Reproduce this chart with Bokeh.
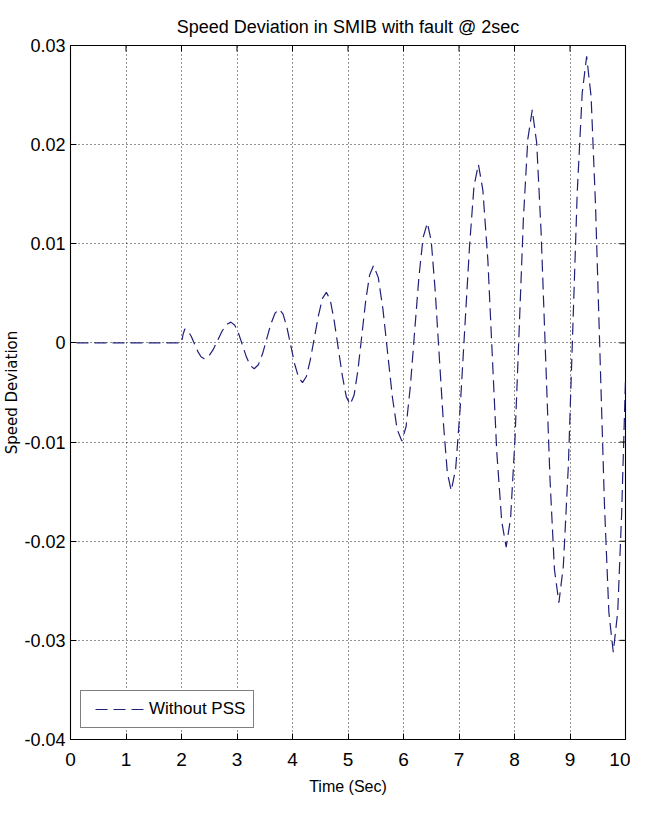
import math
from bokeh.plotting import figure
from bokeh.models import (Range1d, FixedTicker, Legend, LegendItem, ColumnDataSource)
from bokeh.embed import file_html
from bokeh.resources import INLINE

# ---- data ----
time_sec = [0, 2.0, 2.03, 2.06, 2.118, 2.177, 2.235, 2.293, 2.352, 2.41,
            2.49, 2.57, 2.65, 2.73, 2.81, 2.89,
            2.96, 3.03, 3.10, 3.17, 3.24, 3.31,
            3.385, 3.46, 3.535, 3.61, 3.685, 3.76,
            3.83, 3.90, 3.97, 4.04, 4.11, 4.18,
            4.25, 4.32, 4.395, 4.47, 4.54, 4.61,
            4.68, 4.75, 4.825, 4.90, 4.97, 5.04,
            5.11, 5.18, 5.25, 5.32, 5.39, 5.46,
            5.545, 5.63, 5.715, 5.80, 5.885, 5.97,
            6.047, 6.123, 6.20, 6.277, 6.353, 6.43,
            6.50, 6.57, 6.645, 6.72, 6.79, 6.86,
            6.94, 7.02, 7.105, 7.19, 7.27, 7.35,
            7.43, 7.52, 7.60, 7.68, 7.77, 7.85,
            7.93, 8.01, 8.085, 8.16, 8.24, 8.32,
            8.40, 8.48, 8.56, 8.64, 8.72, 8.80,
            8.88, 8.97, 9.05, 9.13, 9.22, 9.30,
            9.38, 9.46, 9.54, 9.62, 9.70, 9.78,
            9.86, 9.93, 10.0]
speed_dev = [0, 0, 0.0009, 0.0014, 0.0012, 0.00065, -0.0001, -0.00085, -0.0014, -0.0016,
             -0.00135, -0.00068, 0.00025, 0.00118, 0.00185, 0.0021,
             0.00179, 0.00093, -0.00025, -0.00143, -0.00229, -0.0026,
             -0.0022, -0.0011, 0.0004, 0.0019, 0.003, 0.0034,
             0.0029, 0.00155, -0.0003, -0.00215, -0.0035, -0.0040,
             -0.00339, -0.00173, 0.00055, 0.00283, 0.00449, 0.0051,
             0.00434, 0.00228, -0.00055, -0.00338, -0.00544, -0.0062,
             -0.00526, -0.0027, 0.0008, 0.0043, 0.00686, 0.0078,
             0.00661, 0.00338, -0.00105, -0.00548, -0.00871, -0.0099,
             -0.00843, -0.0044, 0.0011, 0.0066, 0.01063, 0.0121,
             0.01029, 0.00535, -0.0014, -0.00815, -0.01309, -0.0149,
             -0.0127, -0.00668, 0.00155, 0.00978, 0.0158, 0.0180,
             0.01541, 0.00835, -0.0013, -0.01095, -0.01801, -0.0206,
             -0.01765, -0.00955, 0.00145, 0.01248, 0.02055, 0.0235,
             0.02017, 0.01108, -0.00135, -0.01378, -0.02287, -0.0262,
             -0.02251, -0.01243, 0.00135, 0.01513, 0.02521, 0.0289,
             0.02487, 0.01388, -0.00115, -0.01618, -0.02717, -0.0312,
             -0.0271, -0.0173, -0.0037]

x_ticks = [0, 1, 2, 3, 4, 5, 6, 7, 8, 9, 10]
y_ticks = [-0.04, -0.03, -0.02, -0.01, 0, 0.01, 0.02, 0.03]
y_tick_labels = ["-0.04", "-0.03", "-0.02", "-0.01", "0", "0.01", "0.02", "0.03"]

title_text = "Speed Deviation in SMIB with fault @ 2sec"
x_label = "Time (Sec)"
y_label = "Speed Deviation"
legend_label = "Without PSS"

FONT = "Liberation Sans"
FONT_Y = "DejaVu Sans"
LINE_COLOR = "#202078"

p = figure(width=630, height=807, output_backend="svg", toolbar_location=None,
           x_range=Range1d(0, 10), y_range=Range1d(-0.04, 0.03),
           min_border_left=69, min_border_right=5, min_border_top=45,
           min_border_bottom=68, background_fill_color="white",
           border_fill_color="white")

p.title.text = title_text
p.title.align = "center"
p.title.text_font = FONT
p.title.text_font_size = "18px"
p.title.text_font_style = "normal"
p.title.text_color = "black"
p.title.standoff = 18

p.outline_line_color = "black"
p.outline_line_width = 1.1
p.outline_line_alpha = 1

src = ColumnDataSource(dict(t=time_sec, s=speed_dev))
r = p.line("t", "s", source=src, line_color=LINE_COLOR, line_width=1.2,
           line_dash="12 6", line_dash_offset=12)

# axes (ticks inside, like MATLAB)
for ax in (p.xaxis[0], p.yaxis[0]):
    ax.major_tick_in = 6
    ax.major_tick_out = 0
    ax.minor_tick_line_color = None
    ax.axis_line_color = None
    ax.major_tick_line_color = "black"
    ax.major_label_text_font = FONT
    ax.major_label_text_color = "black"

p.xaxis[0].major_label_text_font_size = "19px"
p.yaxis[0].major_label_text_font_size = "18px"
p.xaxis[0].major_label_standoff = 13
p.yaxis[0].major_label_standoff = 5
p.xaxis[0].ticker = FixedTicker(ticks=x_ticks)
p.yaxis[0].ticker = FixedTicker(ticks=y_ticks)
p.yaxis[0].major_label_overrides = {v: l for v, l in zip(y_ticks, y_tick_labels)}

p.xaxis[0].axis_label = x_label
p.xaxis[0].axis_label_text_font = FONT
p.xaxis[0].axis_label_text_font_size = "16px"
p.xaxis[0].axis_label_text_font_style = "normal"
p.xaxis[0].axis_label_text_color = "black"
p.xaxis[0].axis_label_standoff = 9

p.yaxis[0].axis_label = y_label
p.yaxis[0].axis_label_text_font = FONT_Y
p.yaxis[0].axis_label_text_font_size = "15px"
p.yaxis[0].axis_label_text_font_style = "normal"
p.yaxis[0].axis_label_text_color = "black"
p.yaxis[0].axis_label_standoff = 0

# box ticks on the top and right edges (inward), drawn as short screen-length rays
p.ray(x=x_ticks, y=y_ticks[-1], length=6, length_units="screen",
      angle=-math.pi / 2, line_color="black", line_width=1)
p.ray(x=x_ticks[-1], y=y_ticks, length=6, length_units="screen",
      angle=math.pi, line_color="black", line_width=1)

# dotted grid
for g in (p.xgrid[0], p.ygrid[0]):
    g.grid_line_color = "black"
    g.grid_line_dash = "1 3"
    g.grid_line_width = 1
    g.grid_line_alpha = 0.85
p.xgrid[0].ticker = FixedTicker(ticks=x_ticks)
p.ygrid[0].ticker = FixedTicker(ticks=y_ticks)

legend = Legend(items=[LegendItem(label=legend_label, renderers=[r])],
                location=(10, 11), orientation="vertical",
                label_text_font=FONT, label_text_font_size="17px",
                label_text_color="black", glyph_width=55, glyph_height=16,
                label_standoff=5, padding=8, margin=0, spacing=0,
                border_line_color="black", border_line_width=1.1,
                background_fill_color="white", background_fill_alpha=1)
p.add_layout(legend, "center")

open("out.html", "w").write(file_html(p, INLINE))
